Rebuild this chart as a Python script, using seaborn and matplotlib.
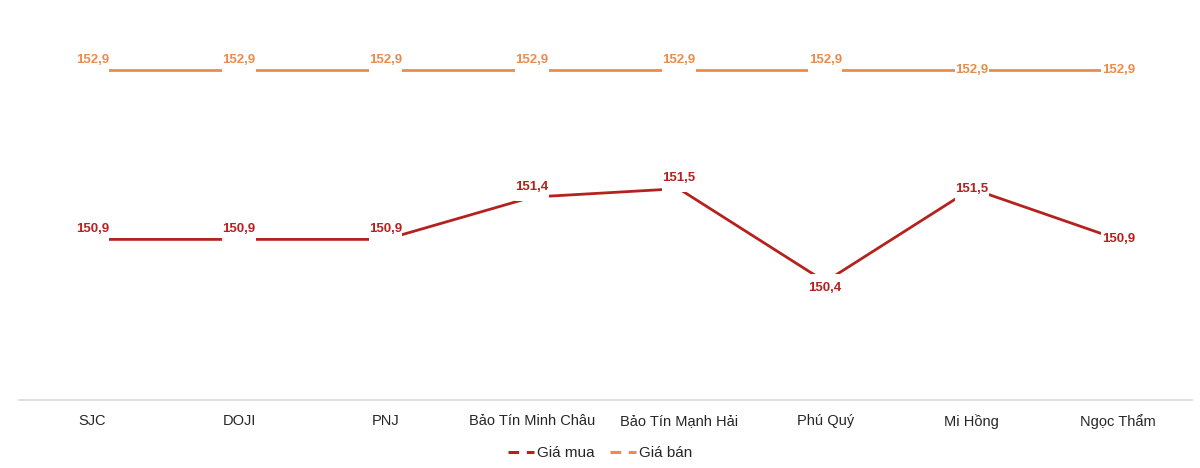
import matplotlib
matplotlib.use("Agg")
import matplotlib.pyplot as plt
import seaborn as sns
import pandas as pd
from matplotlib.lines import Line2D

sns.set_theme(style="white")
plt.rcParams['font.family'] = ['Liberation Sans Narrow', 'Liberation Sans', 'DejaVu Sans']

# Data
brands = ["SJC", "DOJI", "PNJ", "Bảo Tín Minh Châu", "Bảo Tín Mạnh Hải",
          "Phú Quý", "Mi Hồng", "Ngọc Thẩm"]
gia_mua = [150.9, 150.9, 150.9, 151.4, 151.5, 150.4, 151.5, 150.9]
gia_ban = [152.9, 152.9, 152.9, 152.9, 152.9, 152.9, 152.9, 152.9]

# label placement (style, not data)
mua_pos = ["above"] * 5 + ["below", "center", "center"]
ban_pos = ["above"] * 6 + ["center", "center"]

c_mua = "#B5221E"
c_ban = "#ED8B4C"

df = pd.DataFrame({
    "brand": brands * 2,
    "value": gia_mua + gia_ban,
    "series": ["Giá mua"] * len(brands) + ["Giá bán"] * len(brands),
})

fig = plt.figure(figsize=(12, 4.68), dpi=100)
ax = fig.add_axes([0.016, 0.145, 0.977, 0.855])

sns.lineplot(data=df, x="brand", y="value", hue="series", sort=False,
             palette={"Giá mua": c_mua, "Giá bán": c_ban},
             linewidth=2, ax=ax, legend=False, zorder=2)

# white label boxes cut the line like Excel data labels do
offsets = {"above": 7.5, "center": 0, "below": -4.5}
for vals, pos, col in [(gia_mua, mua_pos, c_mua), (gia_ban, ban_pos, c_ban)]:
    for i, (v, p) in enumerate(zip(vals, pos)):
        ax.annotate(f"{v:.1f}".replace(".", ","), (i, v),
                    xytext=(0, offsets[p]), textcoords="offset points",
                    ha="center", va="center", fontsize=9.5, fontweight="bold",
                    color=col, zorder=4,
                    bbox=dict(boxstyle="square,pad=0.02", fc="white", ec="none",
                              mutation_aspect=30))

ax.set_xlim(-0.5, len(brands) - 0.5)
ax.set_ylim(149.0, 153.73)
ax.set_xlabel("")
ax.set_ylabel("")
ax.set_yticks([])
for s in ["top", "right", "left"]:
    ax.spines[s].set_visible(False)
ax.spines["bottom"].set_color("#D9D9D9")
ax.spines["bottom"].set_linewidth(1.2)
ax.tick_params(axis="x", length=0, pad=10, labelsize=10.5, labelcolor="#262626")

handles = [Line2D([0], [0], color=c_mua, lw=2.2, linestyle=(0, (3.5, 2.5))),
           Line2D([0], [0], color=c_ban, lw=2.2, linestyle=(0, (3.5, 2.5)))]
fig.legend(handles, ["Giá mua", "Giá bán"], loc="center", bbox_to_anchor=(0.5, 0.032),
           ncol=2, frameon=False, fontsize=11, handlelength=1.7,
           handletextpad=0.2, columnspacing=1.0, labelcolor="#262626")

fig.savefig("out.png", dpi=100)
